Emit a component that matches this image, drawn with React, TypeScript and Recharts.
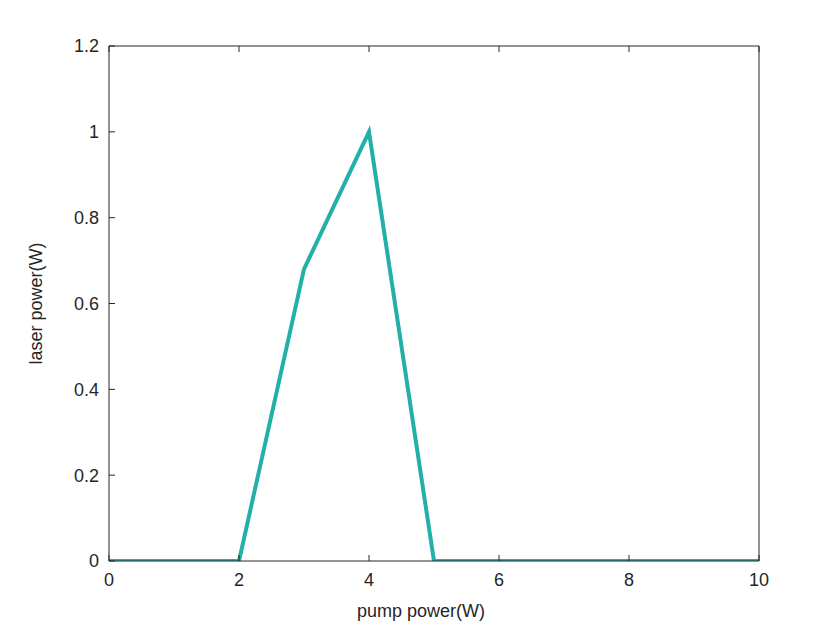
import { LineChart, Line, XAxis, YAxis, Label } from 'recharts';

// pump power (W)
const pumpPower = [0, 1, 2, 3, 4, 5, 6, 7, 8, 9, 10];
// laser power (W)
const laserPower = [0, 0, 0, 0.68, 1, 0, 0, 0, 0, 0, 0];

const xTicks = [0, 2, 4, 6, 8, 10];
const yTicks = [0, 0.2, 0.4, 0.6, 0.8, 1, 1.2];

const data = pumpPower.map((p, i) => ({ pump: p, laser: laserPower[i] }));

const axisColor = '#262626';
const fontFamily = '"Liberation Sans", Arial, sans-serif';
const font = { fontSize: 18, fontFamily, fill: axisColor };
const TICK = 6;

// ticks point inward, like the MATLAB axes box
function BottomTick(props: any) {
  const { x, y, payload, showLabel } = props;
  const axisY = y - 12;
  return (
    <g>
      <line x1={x} x2={x} y1={axisY} y2={axisY - TICK} stroke={axisColor} />
      {showLabel && (
        <text x={x} y={y} dy="0.71em" textAnchor="middle" {...font}>
          {payload.value}
        </text>
      )}
    </g>
  );
}

function TopTick(props: any) {
  const { x, payload } = props;
  const axisY = 46;
  return <line key={payload.value} x1={x} x2={x} y1={axisY} y2={axisY + TICK} stroke={axisColor} />;
}

function LeftTick(props: any) {
  const { x, y, payload } = props;
  const axisX = x + 10;
  return (
    <g>
      <line x1={axisX} x2={axisX + TICK} y1={y} y2={y} stroke={axisColor} />
      <text x={x} y={y} dy="0.355em" textAnchor="end" {...font}>
        {payload.value}
      </text>
    </g>
  );
}

function RightTick(props: any) {
  const { y } = props;
  const axisX = 759;
  return <line x1={axisX} x2={axisX - TICK} y1={y} y2={y} stroke={axisColor} />;
}

export default function App() {
  return (
    <div style={{ position: 'absolute', left: 0, top: 0, width: 840, height: 630, background: '#fff' }}>
      <LineChart
        width={840}
        height={630}
        data={data}
        margin={{ top: 45, right: 80, bottom: 0, left: 0 }}
      >
        <XAxis
          xAxisId="bottom"
          dataKey="pump"
          type="number"
          domain={[0, 10]}
          ticks={xTicks}
          height={69}
          stroke={axisColor}
          tickLine={false}
          tickSize={0}
          tickMargin={12}
          tick={<BottomTick showLabel />}
          allowDataOverflow
        >
          <Label value="pump power(W)" position="center" dx={-13} dy={15} style={font} />
        </XAxis>
        <XAxis
          xAxisId="top"
          dataKey="pump"
          type="number"
          orientation="top"
          domain={[0, 10]}
          ticks={xTicks}
          height={1}
          stroke={axisColor}
          tickLine={false}
          tickSize={0}
          tick={<TopTick />}
        />
        <YAxis
          yAxisId="left"
          type="number"
          domain={[0, 1.2]}
          ticks={yTicks}
          width={109}
          stroke={axisColor}
          tickLine={false}
          tickSize={0}
          tickMargin={10}
          tick={<LeftTick />}
          allowDataOverflow
        >
          <Label value="laser power(W)" position="center" angle={-90} dx={-19} style={font} />
        </YAxis>
        <YAxis
          yAxisId="right"
          type="number"
          orientation="right"
          domain={[0, 1.2]}
          ticks={yTicks}
          width={1}
          stroke={axisColor}
          tickLine={false}
          tickSize={0}
          tick={<RightTick />}
        />
        <Line
          xAxisId="bottom"
          yAxisId="left"
          type="linear"
          dataKey="laser"
          stroke="#22B0A8"
          strokeWidth={4}
          dot={false}
          isAnimationActive={false}
        />
      </LineChart>
    </div>
  );
}
